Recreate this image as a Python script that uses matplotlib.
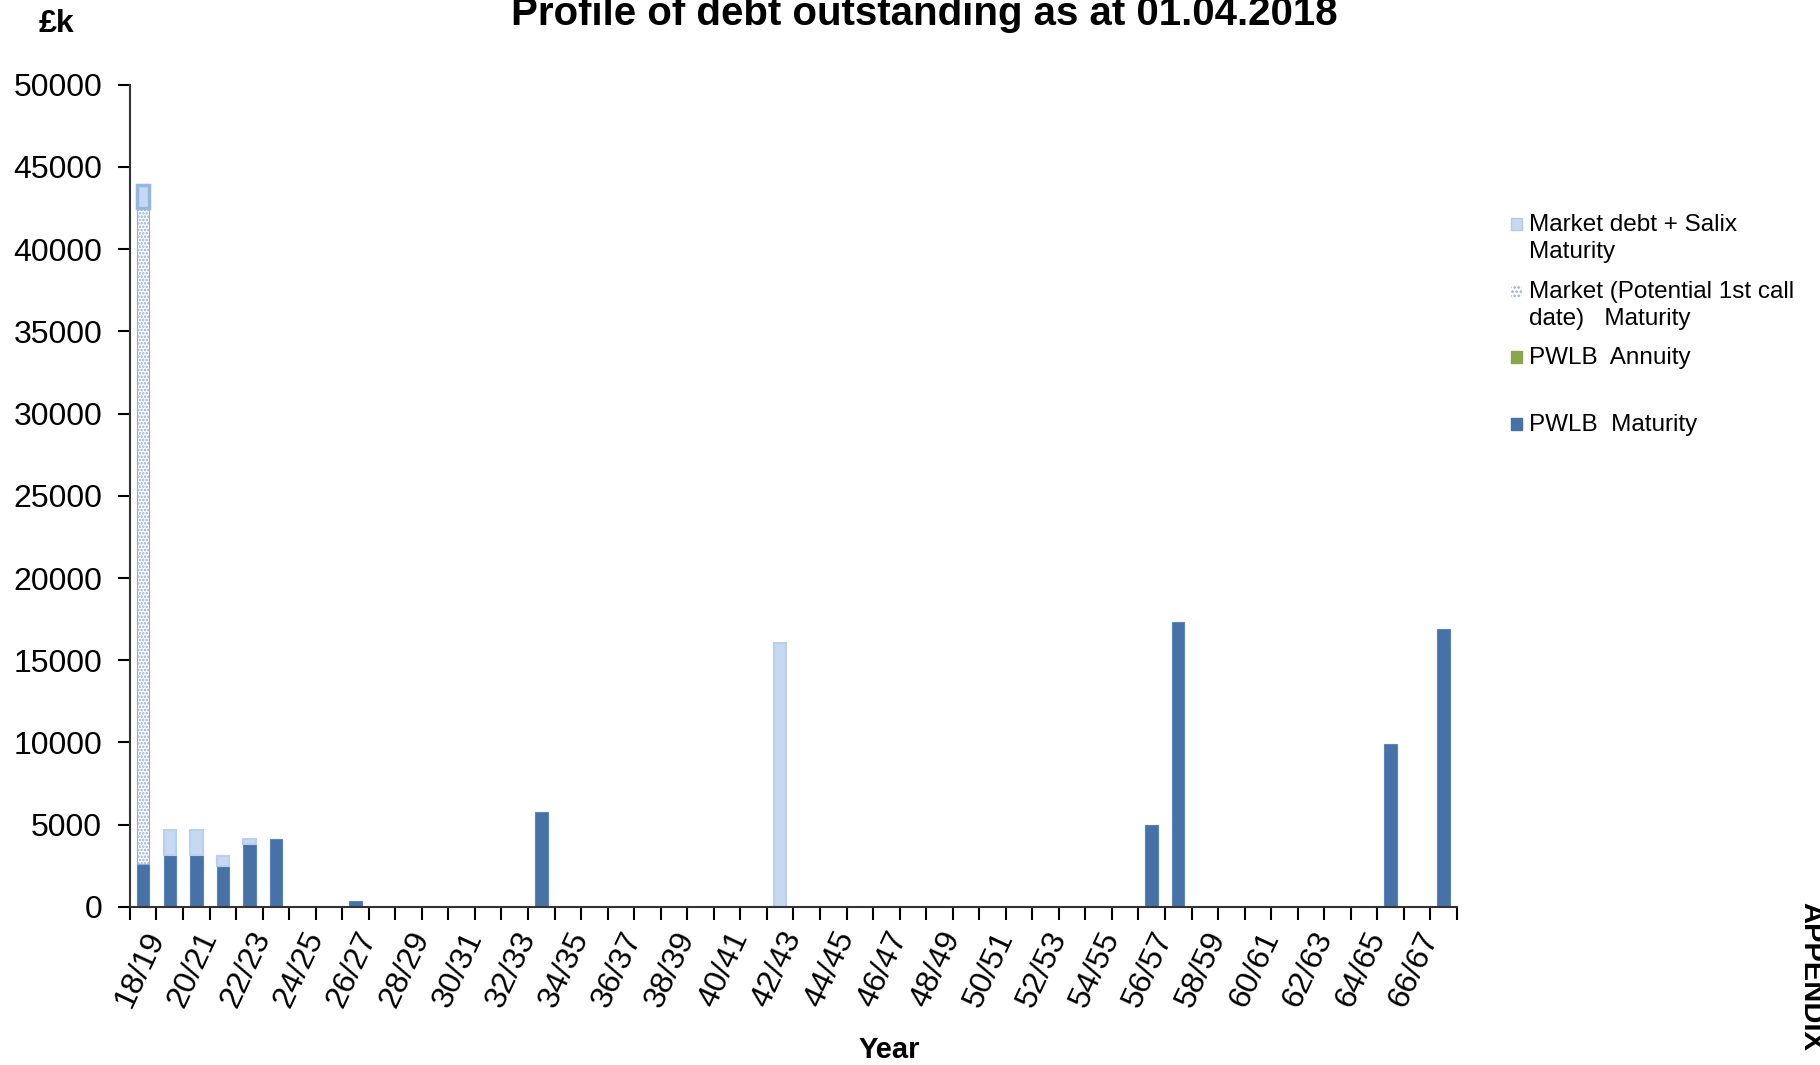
import matplotlib.pyplot as plt
from matplotlib.patches import Rectangle
import numpy as np

plt.rcParams['font.family'] = ['Liberation Sans', 'DejaVu Sans']
plt.rcParams['hatch.linewidth'] = 1.2

# financial years 18/19 .. 67/68
years = [f'{y % 100:02d}/{(y + 1) % 100:02d}' for y in range(2018, 2068)]

# values in £k
pwlb_maturity = np.zeros(50)
pwlb_annuity = np.zeros(50)
market_call = np.zeros(50)
market_salix = np.zeros(50)

pwlb_maturity[[0, 1, 2, 3, 4, 5, 8, 15, 38, 39, 47, 49]] = [2600, 3180, 3180, 2500, 3800, 4140, 350, 5800,
                                                           4960, 17300, 9930, 16900]
market_call[0] = 39900
market_salix[[0, 1, 2, 3, 4, 24]] = [1420, 1520, 1520, 580, 330, 16030]

dark_blue = '#4672a8'
light_blue = '#c6d9f1'
green = '#8aa64a'

fig = plt.figure(figsize=(18.2, 10.65), dpi=100)
ax = fig.add_axes([0.0714, 0.1484, 0.7291, 0.7721])

x = np.arange(len(years))
w = 0.47


def stack(vals, bottom, **kw):
    m = vals > 0
    ax.bar(x[m], vals[m], w, bottom=bottom[m], **kw)


zero = np.zeros(50)
stack(pwlb_maturity, zero, color=dark_blue, edgecolor='#5b84b8', linewidth=0.8)
b2 = pwlb_maturity + pwlb_annuity
stack(pwlb_annuity, pwlb_maturity, color=green)
stack(market_call, b2, color='white', edgecolor='#8eaedb', hatch='.....', linewidth=0.8)
b3 = b2 + market_call
stack(market_salix, b3, color=light_blue, edgecolor='#b8cfee', linewidth=1.5)
# darker outline on the first year's cap
ax.bar(x[:1], market_salix[:1], w, bottom=b3[:1], color=light_blue, edgecolor='#98b6e2', linewidth=2.5)

ax.set_xlim(-0.5, 49.5)
ax.set_ylim(0, 50000)
ax.set_yticks(np.arange(0, 50001, 5000))
ax.tick_params(axis='y', labelsize=23, length=9, width=1.5, pad=11)

ax.set_xticks(x[::2], years[::2], rotation=65, ha='right', rotation_mode='anchor', fontsize=23)
ax.tick_params(axis='x', which='major', length=0, pad=14)
ax.set_xticks(np.arange(-0.5, 50, 1), minor=True)
ax.tick_params(axis='x', which='minor', length=9, width=1.5, direction='out')

for s in ['top', 'right']:
    ax.spines[s].set_visible(False)
for s in ['left', 'bottom']:
    ax.spines[s].set_linewidth(1.5)
    ax.spines[s].set_color('#333333')

fig.text(0.508, 1 - 14 / 1065, 'Profile of debt outstanding as at 01.04.2018',
         ha='center', va='center', fontsize=29, fontweight='bold')
fig.text(0.031, 1 - 24 / 1065, '£k', ha='center', va='center', fontsize=23, fontweight='bold')
fig.text(0.4885, 1 - 1050 / 1065, 'Year', ha='center', va='center', fontsize=21, fontweight='bold')
fig.text(0.995, 1 - 902 / 1065, 'APPENDIX', rotation=270, ha='center', va='top',
         fontsize=21, fontweight='bold')

# legend
leg_labels = ['Market debt + Salix\nMaturity', 'Market (Potential 1st call\ndate)   Maturity',
              'PWLB  Annuity', 'PWLB  Maturity']
leg_styles = [dict(facecolor=light_blue, edgecolor='#b3cbeb'),
              dict(facecolor='white', edgecolor='#8eaedb', hatch='....', linewidth=0),
              dict(facecolor=green, edgecolor=green),
              dict(facecolor=dark_blue, edgecolor=dark_blue)]
leg_y = [224, 291, 357, 424]
for lab, st, yy in zip(leg_labels, leg_styles, leg_y):
    yf = 1 - yy / 1065
    fig.add_artist(Rectangle((1511 / 1820, yf - 6 / 1065), 11 / 1820, 12 / 1065,
                             transform=fig.transFigure, **st))
    fig.text(1529 / 1820, yf + 10 / 1065, lab, ha='left', va='top', fontsize=17.5,
             linespacing=1.3)

fig.savefig('out.png', dpi=100)
